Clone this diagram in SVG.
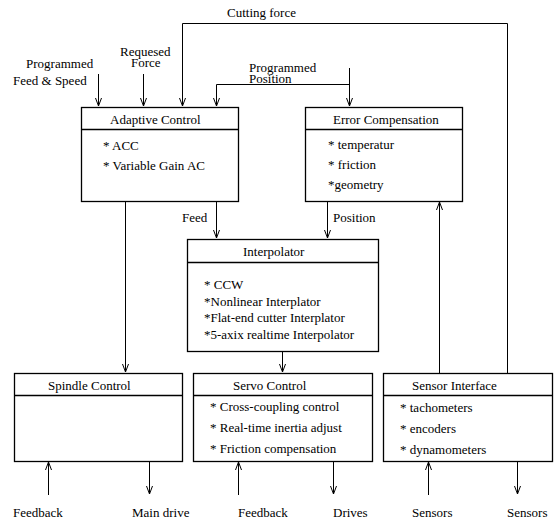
<svg xmlns="http://www.w3.org/2000/svg" width="557" height="523" viewBox="0 0 557 523" font-family="'Liberation Serif', 'Times New Roman', Times, 'DejaVu Serif', serif">
<style>
text{font-family:'Liberation Serif','Times New Roman',Times,'DejaVu Serif',serif;font-size:13px;fill:#000}
.box{fill:#fff;stroke:#000;stroke-width:1.3}
.hd{stroke:#000;stroke-width:1.3}
.ln{fill:none;stroke:#000;stroke-width:1}
</style>
<defs>
<marker id="ah" markerWidth="10" markerHeight="10" refX="8" refY="4" orient="auto" markerUnits="userSpaceOnUse">
<path d="M0,1 L8,4 L0,7" fill="none" stroke="#000" stroke-width="1"/>
</marker>
</defs>
<g id="connectors">
<line class="ln" x1="98.5" y1="74" x2="98.5" y2="106" marker-end="url(#ah)"/>
<line class="ln" x1="143.5" y1="74" x2="143.5" y2="106" marker-end="url(#ah)"/>
<polyline class="ln" points="507.5,373 507.5,23.5 182.5,23.5 182.5,106" marker-end="url(#ah)"/>
<line class="ln" x1="349.5" y1="68" x2="349.5" y2="106" marker-end="url(#ah)"/>
<polyline class="ln" points="349.5,84.5 216.5,84.5 216.5,106" marker-end="url(#ah)"/>
<line class="ln" x1="125.5" y1="201" x2="125.5" y2="372" marker-end="url(#ah)"/>
<line class="ln" x1="216.5" y1="201" x2="216.5" y2="238" marker-end="url(#ah)"/>
<line class="ln" x1="327.5" y1="201" x2="327.5" y2="238" marker-end="url(#ah)"/>
<line class="ln" x1="439.5" y1="373" x2="439.5" y2="202" marker-end="url(#ah)"/>
<line class="ln" x1="282.5" y1="351" x2="282.5" y2="372" marker-end="url(#ah)"/>
<line class="ln" x1="48.5" y1="495" x2="48.5" y2="462" marker-end="url(#ah)"/>
<line class="ln" x1="149.5" y1="461" x2="149.5" y2="494" marker-end="url(#ah)"/>
<line class="ln" x1="238.5" y1="495" x2="238.5" y2="462" marker-end="url(#ah)"/>
<line class="ln" x1="333.5" y1="461" x2="333.5" y2="494" marker-end="url(#ah)"/>
<line class="ln" x1="428.5" y1="495" x2="428.5" y2="462" marker-end="url(#ah)"/>
<line class="ln" x1="517.5" y1="461" x2="517.5" y2="494" marker-end="url(#ah)"/>
<text x="227" y="17">Cutting force</text>
<text x="26" y="68">Programmed</text>
<text x="13" y="85">Feed &amp; Speed</text>
<text x="120" y="56">Requesed</text>
<text x="131" y="67">Force</text>
<text x="249" y="72">Programmed</text>
<text x="249" y="83">Position</text>
<text x="182" y="222">Feed</text>
<text x="333" y="222">Position</text>
<text x="13" y="517">Feedback</text>
<text x="132" y="517">Main drive</text>
<text x="238" y="517">Feedback</text>
<text x="333" y="517">Drives</text>
<text x="412" y="517">Sensors</text>
<text x="507" y="517">Sensors</text>
</g>
<g id="adaptive">
<rect class="box" x="81.5" y="107.5" width="157" height="94"/>
<line class="hd" x1="81.5" y1="129.5" x2="238.5" y2="129.5"/>
<text x="110" y="124">Adaptive Control</text>
<text x="103" y="150">* ACC</text>
<text x="103" y="170">* Variable Gain AC</text>
</g>
<g id="error">
<rect class="box" x="305.5" y="107.5" width="157" height="94"/>
<line class="hd" x1="305.5" y1="129.5" x2="462.5" y2="129.5"/>
<text x="333" y="124">Error Compensation</text>
<text x="328" y="149">* temperatur</text>
<text x="328" y="169">* friction</text>
<text x="328" y="189">*geometry</text>
</g>
<g id="interpolator">
<rect class="box" x="187.5" y="239.5" width="191" height="112"/>
<line class="hd" x1="187.5" y1="262.5" x2="378.5" y2="262.5"/>
<text x="243" y="256">Interpolator</text>
<text x="204" y="289">* CCW</text>
<text x="204" y="306">*Nonlinear Interplator</text>
<text x="204" y="322">*Flat-end cutter Interplator</text>
<text x="204" y="339">*5-axix realtime Interpolator</text>
</g>
<g id="spindle">
<rect class="box" x="14.5" y="373.5" width="168" height="88"/>
<line class="hd" x1="14.5" y1="395.5" x2="182.5" y2="395.5"/>
<text x="48" y="390">Spindle Control</text>
</g>
<g id="servo">
<rect class="box" x="193.5" y="373.5" width="179" height="88"/>
<line class="hd" x1="193.5" y1="395.5" x2="372.5" y2="395.5"/>
<text x="233" y="390">Servo Control</text>
<text x="210" y="411">* Cross-coupling control</text>
<text x="210" y="432">* Real-time inertia adjust</text>
<text x="210" y="453">* Friction compensation</text>
</g>
<g id="sensor">
<rect class="box" x="383.5" y="373.5" width="169" height="88"/>
<line class="hd" x1="383.5" y1="395.5" x2="552.5" y2="395.5"/>
<text x="412" y="390">Sensor Interface</text>
<text x="400" y="412">* tachometers</text>
<text x="400" y="433">* encoders</text>
<text x="400" y="454">* dynamometers</text>
</g>
</svg>
